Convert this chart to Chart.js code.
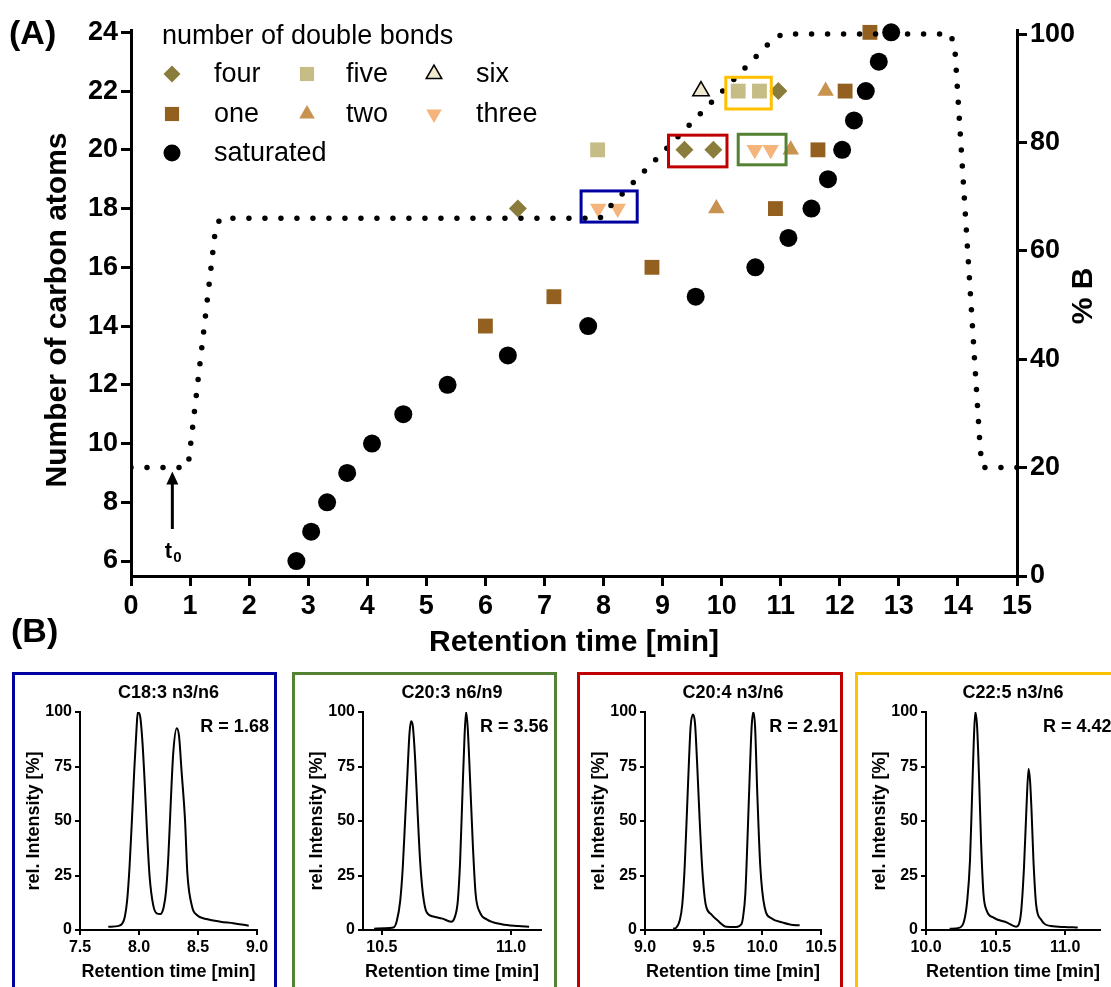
<!DOCTYPE html>
<html>
<head>
<meta charset="utf-8">
<title>Fatty acid retention</title>
<script src="https://cdn.jsdelivr.net/npm/chart.js@4.4.1/dist/chart.umd.min.js"></script>
<style>
  html, body { margin: 0; padding: 0; background: #fff; overflow: hidden; }
  body { width: 1111px; height: 987px; position: relative; }
  #mainChart { position: absolute; left: 0; top: 0; }
  .panel { position: absolute; top: 672px; height: 330px; box-sizing: border-box; border: 3px solid; }
  .panel canvas { position: absolute; left: 0; top: 0; }
</style>
</head>
<body>
<canvas id="mainChart" width="1111" height="665"></canvas>
<div class="panel" style="left:12px;width:265px;border-color:#0000a0"><canvas id="p183" width="259" height="312"></canvas></div>
<div class="panel" style="left:292px;width:265px;border-color:#548235"><canvas id="p203" width="259" height="312"></canvas></div>
<div class="panel" style="left:577px;width:266px;border-color:#c00000"><canvas id="p204" width="260" height="312"></canvas></div>
<div class="panel" style="left:855px;width:262px;border-color:#ffc000"><canvas id="p225" width="253" height="312"></canvas></div>

<script>
const FONT = '"Liberation Sans", Arial, Helvetica, sans-serif';
Chart.defaults.font.family = FONT;
Chart.defaults.color = '#000';

//! retention data, (A) >>

// saturated
const satTime   = [2.80, 3.05, 3.32, 3.66, 4.08, 4.61, 5.36, 6.38, 7.74, 9.56, 10.57, 11.13, 11.52, 11.80, 12.04, 12.24, 12.44, 12.66, 12.87];
const satCarbon = [6, 7, 8, 9, 10, 11, 12, 13, 14, 15, 16, 17, 18, 19, 20, 21, 22, 23, 24];
// one double bond
const oneTime   = [6.00, 7.16, 8.82, 10.91, 11.63, 12.09, 12.51];
const oneCarbon = [14, 15, 16, 18, 20, 22, 24];
// two
const twoTime   = [9.91, 11.17, 11.76];
const twoCarbon = [18, 20, 22];
// three
const threeTime   = [7.91, 8.24, 10.56, 10.83];
const threeCarbon = [18, 18, 20, 20];
// four
const fourTime   = [6.55, 9.37, 9.86, 10.96];
const fourCarbon = [18, 20, 20, 22];
// five
const fiveTime   = [7.90, 10.28, 10.64];
const fiveCarbon = [20, 22, 22];
// six
const sixTime   = [9.65];
const sixCarbon = [22];

// solvent gradient (% B)
const gradTime = [0, 0.93, 0.98, 1.43, 1.51, 7.94, 8.03, 10.82, 11.02, 13.88, 13.95, 14.38, 14.43, 15];
const gradB    = [20, 20, 21.5, 64, 66, 66, 67.3, 98.5, 100, 100, 97, 23, 20, 20];

// critical pairs marked on the plot (time range, carbon range)
const pairBoxes = [
  { t: [7.62, 8.57],   c: [17.54, 18.60], color: '#0000a0' },
  { t: [9.10, 10.09],  c: [19.42, 20.50], color: '#c00000' },
  { t: [10.28, 11.09], c: [19.49, 20.53], color: '#548235' },
  { t: [10.07, 10.84], c: [21.39, 22.47], color: '#ffc000' }
];
const deadTime = 0.7;

//! chromatograms, (B) >>

const c183Time = [7.74, 7.83, 7.86, 7.88, 7.90, 7.92, 7.94, 7.96, 7.98, 7.99, 8.01, 8.03, 8.05, 8.07, 8.09, 8.12, 8.15, 8.18, 8.21, 8.23, 8.25, 8.27, 8.29, 8.32, 8.34, 8.36, 8.39, 8.41, 8.45, 8.49, 8.58, 8.69, 8.80, 8.93];
const c183Int  = [1.5, 1.9, 3.1, 6.1, 13.8, 29.1, 50.5, 73.4, 93.3, 100, 97.9, 85.6, 65.7, 42.8, 24.5, 11.5, 7.6, 7.3, 10.7, 18.3, 35.1, 59.6, 81, 92.5, 88.6, 73.4, 50.5, 26, 10.7, 6.9, 4.9, 3.8, 3.1, 2.0];

const c203Time = [10.47, 10.51, 10.545, 10.558, 10.571, 10.581, 10.59, 10.599, 10.607, 10.613, 10.62, 10.629, 10.638, 10.648, 10.659, 10.674, 10.70, 10.735, 10.768, 10.782, 10.794, 10.803, 10.812, 10.82, 10.826, 10.832, 10.841, 10.852, 10.863, 10.88, 10.906, 10.964, 11.028, 11.07];
const c203Int  = [0.6, 0.8, 1.1, 4.2, 13.4, 28.8, 50.3, 71.8, 90.3, 95.7, 93.4, 78, 54.9, 31.8, 16.5, 8, 6.2, 5.2, 3.8, 5.8, 13.4, 31.8, 62.6, 88.8, 100, 93.4, 70.3, 39.5, 16.5, 8, 4.9, 2.6, 1.8, 1.5];

const c204Time = [9.24, 9.267, 9.295, 9.318, 9.338, 9.358, 9.375, 9.389, 9.409, 9.426, 9.443, 9.466, 9.489, 9.517, 9.565, 9.622, 9.693, 9.778, 9.821, 9.835, 9.855, 9.872, 9.892, 9.909, 9.923, 9.938, 9.957, 9.983, 10.02, 10.077, 10.176, 10.261, 10.318];
const c204Int  = [0.6, 1.1, 4.2, 11.8, 28.8, 54.9, 78, 93.4, 98.8, 94.9, 78, 50.3, 27.2, 11.8, 7.2, 4.2, 1.5, 1.4, 2.6, 5.7, 16.5, 39.5, 70.3, 93.4, 100, 93.4, 62.6, 28.8, 10.3, 5.4, 3.4, 2.3, 2.2];

const c225Time = [10.17, 10.243, 10.274, 10.296, 10.316, 10.33, 10.342, 10.354, 10.367, 10.381, 10.396, 10.413, 10.437, 10.485, 10.583, 10.648, 10.667, 10.684, 10.704, 10.721, 10.737, 10.748, 10.758, 10.772, 10.791, 10.825, 10.898, 10.995, 11.09];
const c225Int  = [0.6, 1.1, 4.2, 13.4, 31.8, 59.5, 84.2, 100, 93.4, 70.3, 39.5, 16.5, 8.8, 5.7, 3.4, 1.5, 2.6, 8.8, 28.8, 54.9, 74, 68, 55, 31.8, 11.8, 4.9, 1.8, 1.4, 1.1];


function pts(xs, ys) {
  return xs.map((x, i) => ({ x: x, y: ys[i] }));
}

function boldFont(size) {
  return { family: FONT, size: size, weight: 'bold' };
}

//! main chart >>

const markerSets = [
  { label: 'four',  data: pts(fourTime, fourCarbon),   pointStyle: 'rectRot',  pointRadius: 9,    pointBackgroundColor: '#8a7c3b' },
  { label: 'five',  data: pts(fiveTime, fiveCarbon),   pointStyle: 'rect',     pointRadius: 10.5, pointBackgroundColor: '#c6bc86' },
  { label: 'six',   data: pts(sixTime, sixCarbon),     pointStyle: 'triangle', pointRadius: 9.5,  pointBackgroundColor: '#efe9cf', pointBorderColor: '#000', pointBorderWidth: 1.5 },
  { label: 'one',   data: pts(oneTime, oneCarbon),     pointStyle: 'rect',     pointRadius: 10.5, pointBackgroundColor: '#93601f' },
  { label: 'two',   data: pts(twoTime, twoCarbon),     pointStyle: 'triangle', pointRadius: 9.5,  pointBackgroundColor: '#c8924f' },
  { label: 'three', data: pts(threeTime, threeCarbon), pointStyle: 'triangle', pointRadius: 9.5,  pointBackgroundColor: '#f4b47c', pointRotation: 180 },
  { label: 'saturated', data: pts(satTime, satCarbon), pointStyle: 'circle',   pointRadius: 9,    pointBackgroundColor: '#000' }
].map(ds => Object.assign({ yAxisID: 'y', order: 1, clip: false, pointBorderWidth: 0, pointBorderColor: 'rgba(0,0,0,0)', pointHoverRadius: ds.pointRadius }, ds));

const gradientSet = {
  label: '% B',
  data: pts(gradTime, gradB),
  yAxisID: 'y2',
  showLine: true,
  order: 0,
  pointRadius: 0,
  borderColor: '#000',
  borderWidth: 5.5,
  borderDash: [0, 16],
  borderCapStyle: 'round',
  tension: 0
};

// legend grid: rows of labels, marker/text columns
const legendRows = [['four', 'five', 'six'], ['one', 'two', 'three'], ['saturated']];
const legendMarkX = [172, 307, 434];
const legendTextX = [214, 346, 476];
const legendRowY = [74, 114, 153];

const figureMarks = {
  id: 'figureMarks',
  afterDatasetsDraw(chart) {
    const { ctx, scales: { x, y } } = chart;
    ctx.save();
    ctx.lineWidth = 3;
    pairBoxes.forEach(b => {
      const l = x.getPixelForValue(b.t[0]), r = x.getPixelForValue(b.t[1]);
      const t = y.getPixelForValue(b.c[1]), bt = y.getPixelForValue(b.c[0]);
      ctx.strokeStyle = b.color;
      ctx.strokeRect(l, t, r - l, bt - t);
    });
    ctx.restore();
  },
  afterDraw(chart) {
    const { ctx, scales: { x, y } } = chart;
    ctx.save();
    ctx.fillStyle = '#000';

    // legend
    ctx.font = '27px ' + FONT;
    ctx.textAlign = 'left';
    ctx.textBaseline = 'middle';
    ctx.fillText('number of double bonds', 162, 37);
    legendRows.forEach((row, ri) => {
      row.forEach((name, ci) => {
        const ds = chart.data.datasets.find(d => d.label === name);
        ctx.save();
        ctx.fillStyle = ds.pointBackgroundColor;
        ctx.strokeStyle = ds.pointBorderColor;
        ctx.lineWidth = ds.pointBorderWidth;
        Chart.helpers.drawPoint(ctx, {
          pointStyle: ds.pointStyle,
          radius: ds.pointRadius - 0.5,
          rotation: ds.pointRotation || 0,
          borderWidth: ds.pointBorderWidth
        }, legendMarkX[ci], legendRowY[ri]);
        ctx.restore();
        ctx.fillText(name, legendTextX[ci], legendRowY[ri] + 1);
      });
    });

    // panel letters
    ctx.font = 'bold 34px ' + FONT;
    ctx.fillText('(A)', 9, 35);
    ctx.fillText('(B)', 11, 633);

    // dead time arrow
    const ax = x.getPixelForValue(deadTime);
    const tip = y.getPixelForValue(9.05), tail = y.getPixelForValue(7.09);
    ctx.strokeStyle = '#000';
    ctx.lineWidth = 3;
    ctx.beginPath();
    ctx.moveTo(ax, tail);
    ctx.lineTo(ax, tip + 10);
    ctx.stroke();
    ctx.beginPath();
    ctx.moveTo(ax, tip);
    ctx.lineTo(ax - 6, tip + 13);
    ctx.lineTo(ax + 6, tip + 13);
    ctx.closePath();
    ctx.fill();
    ctx.font = 'bold 22px ' + FONT;
    ctx.textAlign = 'center';
    ctx.fillText('t', ax - 4, y.getPixelForValue(6.32));
    ctx.font = 'bold 15px ' + FONT;
    ctx.fillText('0', ax + 5, y.getPixelForValue(6.32) + 6);

    // axis titles reading upward
    ctx.font = 'bold 30px ' + FONT;
    ctx.save();
    ctx.translate(58, 310);
    ctx.rotate(-Math.PI / 2);
    ctx.fillText('Number of carbon atoms', 0, 0);
    ctx.restore();
    ctx.translate(1084, 296);
    ctx.rotate(-Math.PI / 2);
    ctx.fillText('% B', 0, 0);
    ctx.restore();
  }
};

const axisGrid = { display: true, drawOnChartArea: false, drawTicks: true, tickLength: 10, tickWidth: 3, tickColor: '#000', color: '#000', lineWidth: 3 };
const axisBorder = { display: true, color: '#000', width: 3 };

new Chart('mainChart', {
  type: 'scatter',
  data: { datasets: [gradientSet].concat(markerSets) },
  options: {
    responsive: false,
    animation: false,
    events: [],
    layout: { padding: { top: 30, left: 0, right: 0, bottom: 0 } },
    plugins: { legend: { display: false }, tooltip: { enabled: false } },
    scales: {
      x: {
        type: 'linear', min: 0, max: 15,
        ticks: { stepSize: 1, font: boldFont(27), color: '#000', padding: 4 },
        grid: axisGrid, border: axisBorder,
        title: { display: true, text: 'Retention time [min]', font: boldFont(30), color: '#000', padding: { top: 0, bottom: 4 } },
        afterFit(s) { s.height = 89; }
      },
      y: {
        type: 'linear', position: 'left', min: 5.49, max: 24.08,
        ticks: { font: boldFont(27), color: '#000', padding: 3 },
        afterBuildTicks(s) { s.ticks = [6, 8, 10, 12, 14, 16, 18, 20, 22, 24].map(v => ({ value: v })); },
        grid: axisGrid, border: axisBorder,
        afterFit(s) { s.width = 131; }
      },
      y2: {
        type: 'linear', position: 'right', min: 0, max: 100.75,
        ticks: { font: boldFont(27), color: '#000', padding: 3 },
        afterBuildTicks(s) { s.ticks = [0, 20, 40, 60, 80, 100].map(v => ({ value: v })); },
        grid: axisGrid, border: axisBorder,
        afterFit(s) { s.width = 94; }
      }
    }
  },
  plugins: [figureMarks]
});

//! chromatogram panels >>

const panelMarks = {
  id: 'panelMarks',
  afterDraw(chart, args, opts) {
    const { ctx, chartArea, scales: { x, y } } = chart;
    ctx.save();
    ctx.fillStyle = '#000';
    ctx.font = 'bold 18px ' + FONT;
    ctx.textBaseline = 'middle';
    ctx.textAlign = 'center';
    ctx.fillText(opts.heading, (chartArea.left + chartArea.right) / 2, 18);
    ctx.textAlign = 'left';
    ctx.fillText(opts.resolution, x.getPixelForValue(opts.labelAt), y.getPixelForValue(93));
    ctx.restore();
  }
};

function drawPanel(id, time, intensity, cfg) {
  const cv = document.getElementById(id);
  const panelGrid = { display: true, drawOnChartArea: false, drawTicks: true, tickLength: 5, tickWidth: 2, tickColor: '#000', color: '#000', lineWidth: 2 };
  const panelBorder = { display: true, color: '#000', width: 2 };
  new Chart(cv, {
    type: 'scatter',
    data: {
      datasets: [{
        data: pts(time, intensity),
        showLine: true,
        borderColor: '#000',
        borderWidth: 2,
        pointRadius: 0,
        cubicInterpolationMode: 'monotone'
      }]
    },
    options: {
      responsive: false,
      animation: false,
      events: [],
      layout: { padding: { top: 37, left: 0, right: cv.width - cfg.plotRight, bottom: 0 } },
      plugins: {
        legend: { display: false }, tooltip: { enabled: false },
        panelMarks: { heading: cfg.heading, resolution: cfg.resolution, labelAt: cfg.labelAt }
      },
      scales: {
        x: {
          type: 'linear', min: cfg.min, max: cfg.max,
          ticks: { font: boldFont(16), color: '#000', padding: 3, callback: v => v.toFixed(1) },
          afterBuildTicks(s) { s.ticks = cfg.ticks.map(v => ({ value: v })); },
          grid: panelGrid, border: panelBorder,
          title: { display: true, text: 'Retention time [min]', font: boldFont(18), color: '#000', padding: { top: 0, bottom: 4 } },
          afterFit(s) { s.height = 57; }
        },
        y: {
          type: 'linear', min: 0, max: 100,
          ticks: { font: boldFont(16), color: '#000', padding: 3, stepSize: 25 },
          grid: panelGrid, border: panelBorder,
          title: { display: true, text: 'rel. Intensity [%]', font: boldFont(18), color: '#000', padding: { top: cfg.plotLeft - 57, bottom: 0 } },
          afterFit(s) { s.width = cfg.plotLeft; }
        }
      }
    },
    plugins: [panelMarks]
  });
}

drawPanel('p183', c183Time, c183Int, { heading: 'C18:3 n3/n6', resolution: 'R = 1.68', labelAt: 8.52,  min: 7.5,    max: 9.0,    ticks: [7.5, 8.0, 8.5, 9.0],   plotLeft: 65, plotRight: 242 });
drawPanel('p203', c203Time, c203Int, { heading: 'C20:3 n6/n9', resolution: 'R = 3.56', labelAt: 10.88, min: 10.427, max: 11.116, ticks: [10.5, 11.0],           plotLeft: 68, plotRight: 246 });
drawPanel('p204', c204Time, c204Int, { heading: 'C20:4 n3/n6', resolution: 'R = 2.91', labelAt: 10.06, min: 9.0,    max: 10.5,   ticks: [9.0, 9.5, 10.0, 10.5], plotLeft: 65, plotRight: 241 });
drawPanel('p225', c225Time, c225Int, { heading: 'C22:5 n3/n6', resolution: 'R = 4.42', labelAt: 10.84, min: 10.0,   max: 11.25,  ticks: [10.0, 10.5, 11.0],     plotLeft: 68, plotRight: 242 });
</script>
</body>
</html>
